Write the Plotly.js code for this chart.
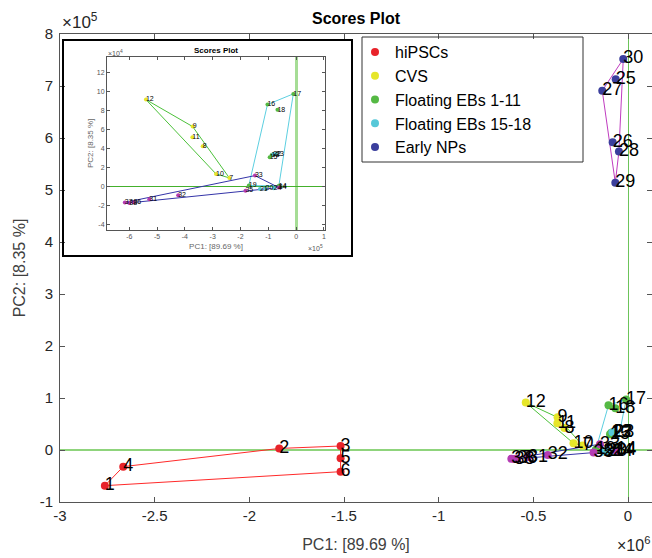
<!DOCTYPE html>
<html><head><meta charset="utf-8">
<script src="https://cdn.plot.ly/plotly-3.0.1.min.js"></script>
<style>html,body{margin:0;padding:0;background:#fff}#chart{width:652px;height:558px}</style>
</head><body><div id="chart"></div>
<script>
// ---------- data ----------
const sampleIds = ['1','2','3','4','5','6','7','8','9','10','11','12','13','14','15','16','17','18','19',
  '20','21','22','23','24','25','26','27','28','29','30','31','32','33','34','35','36','37','38'];
const pc1 = [-2763000,-1842000,-1518000,-2666000,-1518000,-1518000,
  -240000,-336000,-372000,-288000,-373000,-540000,
  -88000,-62000,-95000,-103000,-10000,-67000,-170000,
  -110000,-130000,-82000,-72000,-80000,
  -65000,-81000,-136000,-48000,-67000,-25000,
  -528000,-424000,-148000,-62000,-182000,-585000,-616000,-600000];
const pc2 = [-68600,3000,7700,-32000,-16000,-41700,
  8800,42100,62800,13000,51600,91200,
  33000,500,30500,86000,97200,80500,700,
  -2500,-3000,34000,34000,-2000,
  713000,592000,691000,574000,514000,752000,
  -13700,-9500,11200,-1400,-4600,-16800,-17000,-17500];
const groupOf = [0,0,0,0,0,0, 1,1,1,1,1,1, 2,2,2,2,2,2,2, 3,3,3,3,3, 4,4,4,4,4,4, 5,5,5,5,5,5,5,5];
const groupNames = ['hiPSCs','CVS','Floating EBs 1-11','Floating EBs 15-18','Early NPs','Other'];
const showInLegend = [true,true,true,true,true,false];
const markerColors = ['#e8232a','#e6e62a','#55b944','#56c8d8','#3b3f9d','#b43cb4'];
const hullColors = ['#ff2a2a','#4cc13a','#5ccfe0',null,'#c03cc0','#3434a8'];

const xTickVals = [-3e6,-2.5e6,-2e6,-1.5e6,-1e6,-0.5e6,0];
const xTickText = ['-3','-2.5','-2','-1.5','-1','-0.5','0'];
const yTickVals = [-1e5,0,1e5,2e5,3e5,4e5,5e5,6e5,7e5,8e5];
const yTickText = ['-1','0','1','2','3','4','5','6','7','8'];
const insetXTickVals = [-6e5,-5e5,-4e5,-3e5,-2e5,-1e5,0,1e5];
const insetXTickText = ['-6','-5','-4','-3','-2','-1','0','1'];
const insetYTickVals = [-4e4,-2e4,0,2e4,4e4,6e4,8e4,10e4,12e4];
const insetYTickText = ['-4','-2','0','2','4','6','8','10','12'];
const insetXRange = [-6.8e5,1.04e5];
const insetYRange = [-4.57e4,13.6e4];

// ---------- helpers ----------
function convexHull(idx){
  const pts = idx.map(i=>[pc1[i],pc2[i]]).sort((a,b)=>a[0]-b[0]||a[1]-b[1]);
  const cross=(o,a,b)=>(a[0]-o[0])*(b[1]-o[1])-(a[1]-o[1])*(b[0]-o[0]);
  const lower=[];for(const p of pts){while(lower.length>=2&&cross(lower[lower.length-2],lower[lower.length-1],p)<=0)lower.pop();lower.push(p);}
  const upper=[];for(const p of pts.slice().reverse()){while(upper.length>=2&&cross(upper[upper.length-2],upper[upper.length-1],p)<=0)upper.pop();upper.push(p);}
  upper.pop();lower.pop();
  const h=lower.concat(upper);h.push(h[0]);return h;
}
const inInset = i => pc1[i]>=insetXRange[0]&&pc1[i]<=insetXRange[1]&&pc2[i]>=insetYRange[0]&&pc2[i]<=insetYRange[1];

const FONT = 'Liberation Sans, Arial, Helvetica, sans-serif';
const traces = [];
function addPanel(xa, ya, main){
  for(let g=0; g<groupNames.length; g++){
    if(!hullColors[g]) continue;
    const idx = groupOf.map((v,i)=>v===g?i:-1).filter(i=>i>=0);
    if(!main && !idx.some(inInset)) continue;
    const h = convexHull(idx);
    traces.push({type:'scatter',mode:'lines',x:h.map(p=>p[0]),y:h.map(p=>p[1]),xaxis:xa,yaxis:ya,
      line:{color:hullColors[g],width:1},showlegend:false,hoverinfo:'skip'});
  }
  for(let g=0; g<groupNames.length; g++){
    const idx = groupOf.map((v,i)=>v===g?i:-1).filter(i=>i>=0).filter(i=>main||inInset(i));
    if(!idx.length) continue;
    traces.push({type:'scatter',mode:'markers',name:groupNames[g],x:idx.map(i=>pc1[i]),y:idx.map(i=>pc2[i]),
      xaxis:xa,yaxis:ya,marker:{color:markerColors[g],size:main?8:4},
      showlegend: main && showInLegend[g], cliponaxis:false});
  }
  const tIdx = sampleIds.map((s,i)=>i).filter(i=>main||inInset(i));
  traces.push({type:'scatter',mode:'text',x:tIdx.map(i=>pc1[i]),y:tIdx.map(i=>pc2[i]),text:tIdx.map(i=>sampleIds[i]),xaxis:xa,yaxis:ya,
    textposition:'middle right',textfont:{family:FONT,size:main?18:7,color:'#000'},
    showlegend:false,hoverinfo:'skip',cliponaxis:false});
}
addPanel('x','y',true);
addPanel('x2','y2',false);

// inset geometry (pixel -> paper)
const L=60, R=652, T=34, B=502, W=R-L, H=B-T;
const px=v=>(v-L)/W, py=v=>(B-v)/H;

const axisCommon = {showline:true,mirror:'ticks',ticks:'inside',showgrid:false,linecolor:'#555',tickcolor:'#555'};

const layout = {
  width:652,height:558,
  margin:{l:L,r:652-R,t:T,b:558-B},
  paper_bgcolor:'#fff',plot_bgcolor:'#fff',
  font:{family:FONT,color:'#262626'},
  title:{text:'<b>Scores Plot</b>',font:{size:16,color:'#000'},xref:'paper',x:0.5,yref:'container',y:1-18/558,yanchor:'middle'},
  xaxis:Object.assign({},axisCommon,{range:[-3e6,(R-628)/189.3*1e6],tickvals:xTickVals,ticktext:xTickText,ticklen:5,
    tickfont:{size:15,color:'#262626'},zeroline:true,zerolinecolor:'#6cc45a',zerolinewidth:1,
    title:{text:'PC1: [89.69 %]',font:{size:16,color:'#404040'},standoff:15}}),
  yaxis:Object.assign({},axisCommon,{range:[-1e5,8e5],tickvals:yTickVals,ticktext:yTickText,ticklen:5,
    tickfont:{size:15,color:'#262626'},zeroline:true,zerolinecolor:'#8fd47c',zerolinewidth:2,ticklabelstandoff:3,
    title:{text:'PC2: [8.35 %]',font:{size:16,color:'#404040'},standoff:10}}),
  xaxis2:Object.assign({},axisCommon,{anchor:'y2',domain:[px(107),px(325)],range:insetXRange,
    tickvals:insetXTickVals,ticktext:insetXTickText,ticklen:3,tickfont:{size:7,color:'#555'},
    zeroline:true,zerolinecolor:'#a6dd96',zerolinewidth:3,
    title:{text:'PC1: [89.69 %]',font:{size:8,color:'#666'},standoff:4}}),
  yaxis2:Object.assign({},axisCommon,{anchor:'x2',domain:[py(229.7),py(57)],range:insetYRange,
    tickvals:insetYTickVals,ticktext:insetYTickText,ticklen:3,tickfont:{size:7,color:'#555'},
    zeroline:true,zerolinecolor:'#44b02c',zerolinewidth:1.5,
    title:{text:'PC2: [8.35 %]',font:{size:8,color:'#666'},standoff:1}}),
  showlegend:true,
  legend:{x:px(355),y:py(35),xanchor:'left',yanchor:'top',bgcolor:'rgba(0,0,0,0)',borderwidth:0,
    font:{size:16,color:'#000'},itemwidth:30,tracegroupgap:0},
  shapes:[
    {type:'rect',xref:'paper',yref:'paper',x0:px(63),x1:px(352),y0:py(256),y1:py(40),line:{color:'#000',width:2},fillcolor:'rgba(0,0,0,0)'},
    {type:'rect',xref:'paper',yref:'paper',x0:px(362),x1:px(583),y0:py(162),y1:py(37),line:{color:'#333',width:1},fillcolor:'rgba(0,0,0,0)'}
  ],
  annotations:[
    {text:'×10<sup>5</sup>',xref:'paper',yref:'paper',x:0,y:1,xanchor:'left',yanchor:'bottom',showarrow:false,font:{size:17,color:'#262626'}},
    {text:'×10<sup>6</sup>',xref:'paper',yref:'paper',x:1,y:py(544),xanchor:'right',yanchor:'middle',showarrow:false,font:{size:16,color:'#262626'}},
    {text:'<b>Scores Plot</b>',xref:'paper',yref:'paper',x:(px(107)+px(325))/2,y:py(51),xanchor:'center',yanchor:'middle',showarrow:false,font:{size:8,color:'#000'}},
    {text:'×10<sup>4</sup>',xref:'paper',yref:'paper',x:px(106),y:py(53),xanchor:'left',yanchor:'middle',showarrow:false,font:{size:7,color:'#555'}},
    {text:'×10<sup>5</sup>',xref:'paper',yref:'paper',x:px(325),y:py(248),xanchor:'right',yanchor:'middle',showarrow:false,font:{size:7,color:'#555'}}
  ]
};
Plotly.newPlot('chart',traces,layout,{displayModeBar:false,staticPlot:true});
</script></body></html>
